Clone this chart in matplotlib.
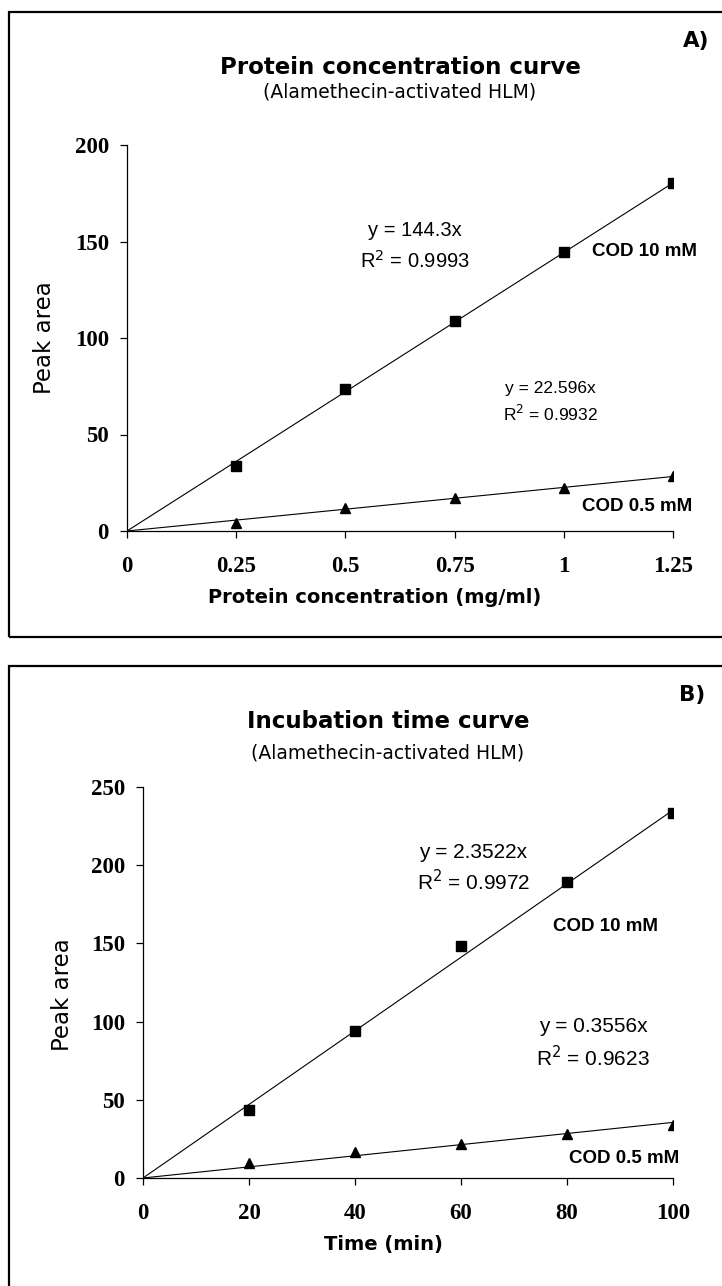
import matplotlib
matplotlib.use("Agg")
import matplotlib.pyplot as plt
from matplotlib.patches import Rectangle

# Data
prot_conc = [0.25, 0.5, 0.75, 1.0, 1.25]
prot_cod10 = [33.8, 73.6, 109.0, 144.7, 180.2]
prot_cod05 = [4.3, 11.7, 16.9, 22.4, 28.6]
prot_slope10 = 144.3
prot_slope05 = 22.596

inc_time = [20, 40, 60, 80, 100]
inc_cod10 = [43.7, 93.8, 148.2, 189.1, 233.3]
inc_cod05 = [9.6, 16.4, 22.0, 28.4, 34.1]
inc_slope10 = 2.3522
inc_slope05 = 0.3556

prot_xticks = [0, 0.25, 0.5, 0.75, 1, 1.25]
prot_xlabels = ["0", "0.25", "0.5", "0.75", "1", "1.25"]
prot_yticks = [0, 50, 100, 150, 200]
inc_xticks = [0, 20, 40, 60, 80, 100]
inc_yticks = [0, 50, 100, 150, 200, 250]

W, H = 722, 1286
fig = plt.figure(figsize=(W / 100, H / 100), dpi=100)

def fx(px):
    return px / W

def fy(py):
    return 1 - py / H

# panel frames (right side and bottom of B run off the picture)
fig.patches.append(Rectangle((fx(9), fy(637)), 1.2, fy(12) - fy(637), transform=fig.transFigure,
                             fill=False, edgecolor="black", linewidth=1.6))
fig.patches.append(Rectangle((fx(9), -0.2), 1.2, fy(666) + 0.2, transform=fig.transFigure,
                             fill=False, edgecolor="black", linewidth=1.6))

def style_axes(ax):
    for s in ["top", "right"]:
        ax.spines[s].set_visible(False)
    for s in ["left", "bottom"]:
        ax.spines[s].set_linewidth(0.9)
    ax.tick_params(direction="out", length=5, width=0.9)
    ax.tick_params(axis="x", pad=13)
    ax.tick_params(axis="y", pad=8)
    for lab in ax.get_xticklabels() + ax.get_yticklabels():
        lab.set_fontfamily("Liberation Serif")
        lab.set_fontweight("bold")
        lab.set_fontsize(16.5)

eq = dict(family="Liberation Sans", ha="center", va="center", clip_on=False)
cod = dict(family="Liberation Sans", weight="bold", fontsize=13.5, va="center", clip_on=False)

# ---------- A) Protein concentration ----------
axA = fig.add_axes([fx(127), fy(531), fx(673) - fx(127), fy(145) - fy(531)])
axA.plot([0, prot_conc[-1]], [0, prot_slope10 * prot_conc[-1]], color="black", linewidth=0.8)
axA.plot([0, prot_conc[-1]], [0, prot_slope05 * prot_conc[-1]], color="black", linewidth=0.8)
axA.plot(prot_conc, prot_cod10, "s", color="black", markersize=7.5)
axA.plot(prot_conc, prot_cod05, "^", color="black", markersize=7.5)
axA.set_xlim(0, 1.25)
axA.set_ylim(0, 200)
axA.set_xticks(prot_xticks)
axA.set_xticklabels(prot_xlabels)
axA.set_yticks(prot_yticks)
style_axes(axA)
axA.set_ylabel("Peak area", fontsize=16.5, family="DejaVu Sans")
axA.yaxis.set_label_coords(-0.152, 0.5)
axA.yaxis.label.set_va("center")
axA.set_xlabel("Protein concentration (mg/ml)", fontsize=14, family="DejaVu Sans", weight="bold")
axA.xaxis.set_label_coords(0.454, -0.171)
axA.xaxis.label.set_va("center")

axA.text(0.66, 155.6, "y = 144.3x", fontsize=14.5, **eq)
axA.text(0.66, 140, "R$^2$ = 0.9993", fontsize=14.5, **eq)
axA.text(0.97, 73.7, "y = 22.596x", fontsize=12.5, **eq)
axA.text(0.97, 60.8, "R$^2$ = 0.9932", fontsize=12.5, **eq)
axA.text(1.065, 145, "COD 10 mM", **cod)
axA.text(1.042, 12.6, "COD 0.5 mM", **cod)

fig.text(fx(400), fy(67), "Protein concentration curve", ha="center", va="center",
         fontsize=16.5, weight="bold", family="DejaVu Sans")
fig.text(fx(400), fy(92), "(Alamethecin-activated HLM)", ha="center", va="center",
         fontsize=13.5, family="DejaVu Sans")
fig.text(fx(696), fy(41), "A)", ha="center", va="center", fontsize=15.5, weight="bold",
         family="DejaVu Sans")

# ---------- B) Incubation time ----------
axB = fig.add_axes([fx(143), fy(1178), fx(673) - fx(143), fy(787) - fy(1178)])
axB.plot([0, inc_time[-1]], [0, inc_slope10 * inc_time[-1]], color="black", linewidth=0.8)
axB.plot([0, inc_time[-1]], [0, inc_slope05 * inc_time[-1]], color="black", linewidth=0.8)
axB.plot(inc_time, inc_cod10, "s", color="black", markersize=7.5)
axB.plot(inc_time, inc_cod05, "^", color="black", markersize=7.5)
axB.set_xlim(0, 100)
axB.set_ylim(0, 250)
axB.set_xticks(inc_xticks)
axB.set_yticks(inc_yticks)
style_axes(axB)
axB.set_ylabel("Peak area", fontsize=16.5, family="DejaVu Sans")
axB.yaxis.set_label_coords(-0.151, 0.47)
axB.yaxis.label.set_va("center")
axB.set_xlabel("Time (min)", fontsize=14, family="DejaVu Sans", weight="bold")
axB.xaxis.set_label_coords(0.453, -0.171)
axB.xaxis.label.set_va("center")

axB.text(62.3, 208.3, "y = 2.3522x", fontsize=15, **eq)
axB.text(62.3, 189.6, "R$^2$ = 0.9972", fontsize=15, **eq)
axB.text(84.9, 97, "y = 0.3556x", fontsize=15, **eq)
axB.text(84.9, 76.8, "R$^2$ = 0.9623", fontsize=15, **eq)
axB.text(77.4, 160.5, "COD 10 mM", **cod)
axB.text(80.3, 12.2, "COD 0.5 mM", **cod)

fig.text(fx(388), fy(721), "Incubation time curve", ha="center", va="center",
         fontsize=16.5, weight="bold", family="DejaVu Sans")
fig.text(fx(388), fy(753), "(Alamethecin-activated HLM)", ha="center", va="center",
         fontsize=13.5, family="DejaVu Sans")
fig.text(fx(692), fy(695), "B)", ha="center", va="center", fontsize=15.5, weight="bold",
         family="DejaVu Sans")

fig.savefig("out.png", dpi=100)
